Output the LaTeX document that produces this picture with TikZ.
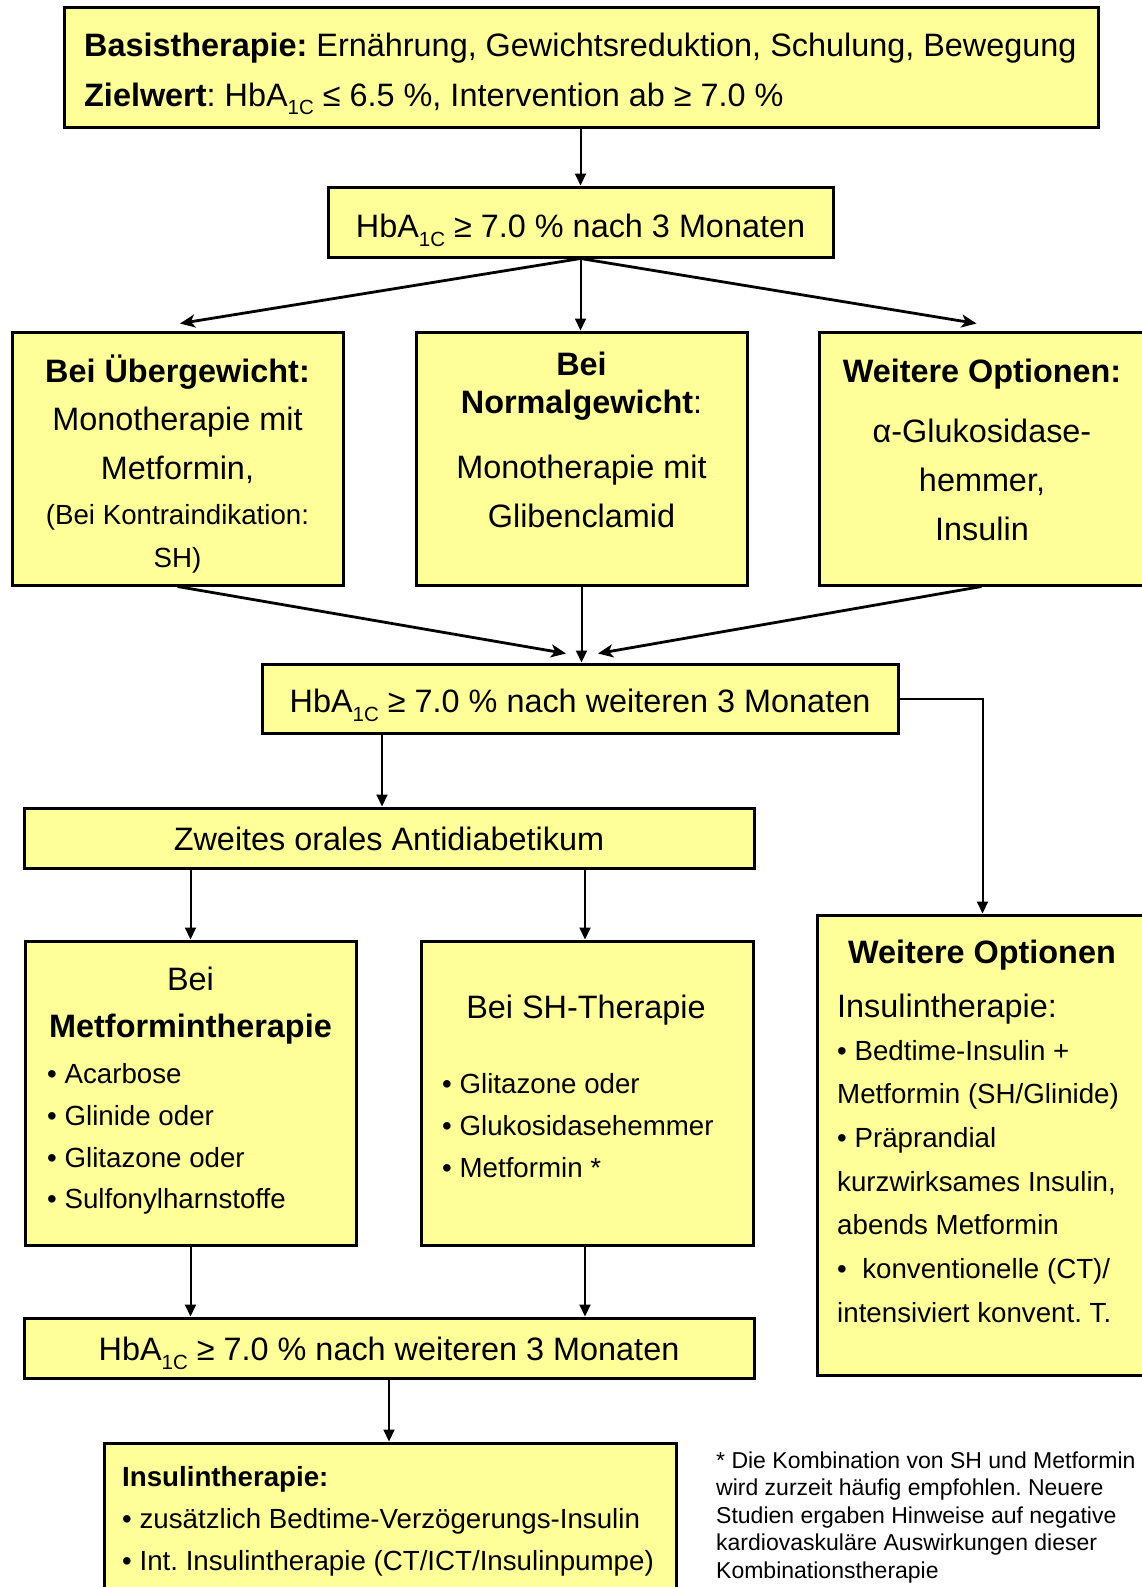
\documentclass[tikz,border=0pt]{standalone}
\usepackage{fontspec}
\setmainfont{Liberation Sans}
\usetikzlibrary{arrows.meta}
\definecolor{boxyellow}{RGB}{255,255,153}
\frenchspacing
\newcommand{\fbig}{\fontsize{32.4}{38}\selectfont}
\newcommand{\fmid}{\fontsize{27.7}{33}\selectfont}
\newcommand{\fsml}{\fontsize{23}{27.5}\selectfont}
\newcommand{\HbAc}{HbA\raisebox{-9pt}{\fontsize{20.5}{20.5}\selectfont 1C}}
\tikzset{
  box/.style={draw=black, line width=3pt, fill=boxyellow, inner sep=0pt},
  tb/.style={inner sep=0pt, anchor=base, font=\fbig},
  tbl/.style={inner sep=0pt, anchor=base west, font=\fbig},
  tm/.style={inner sep=0pt, anchor=base, font=\fmid},
  tml/.style={inner sep=0pt, anchor=base west, font=\fmid},
  tsl/.style={inner sep=0pt, anchor=base west, font=\fsml},
  arr/.style={line width=2pt, -{Triangle[length=12pt,width=11pt]}},
  darr/.style={line width=2.8pt, -{Stealth[length=15pt,width=13pt,inset=4pt]}},
}
\begin{document}
\begin{tikzpicture}[x=1pt,y=-1pt]
\useasboundingbox (0,0) rectangle (1141,1587);
\fill[white] (0,0) rectangle (1141,1587);

% boxes
\node[box, minimum width=1034pt, minimum height=119pt] (top) at (581,67.5) {};
\node[box, minimum width=505pt, minimum height=70pt] (b2) at (580.5,222) {};
\node[box, minimum width=331pt, minimum height=253pt] (L1) at (177.5,458.5) {};
\node[box, minimum width=331pt, minimum height=253pt] (M1) at (581.5,458.5) {};
\node[box, minimum width=331pt, minimum height=253pt] (R1) at (984.5,458.5) {};
\node[box, minimum width=636pt, minimum height=69pt] (W2) at (580,698.5) {};
\node[box, minimum width=730pt, minimum height=60pt] (Z) at (389,838) {};
\node[box, minimum width=331pt, minimum height=304pt] (MT) at (190.5,1093) {};
\node[box, minimum width=332pt, minimum height=304pt] (SH) at (587,1093) {};
\node[box, minimum width=331pt, minimum height=460pt] (RO) at (982.5,1145) {};
\node[box, minimum width=730pt, minimum height=60pt] (H3) at (389,1348) {};
\node[box, minimum width=572pt, minimum height=177pt] (IT) at (390,1531.5) {};

% connectors
\draw[arr] (top.south -| b2.north) -- (b2.north);
\draw[darr] (b2.south) -- ([xshift=2.5pt,yshift=7pt]L1.north);
\draw[arr] (b2.south) -- (b2.south |- M1.north);
\draw[darr] (b2.south) -- ([xshift=-8pt,yshift=7pt]R1.north);
\draw[darr] (L1.south) -- ([xshift=-14pt,yshift=9pt]W2.north);
\draw[arr] (M1.south) -- (M1.south |- W2.north);
\draw[darr] ([xshift=-3pt]R1.south) -- ([xshift=18pt,yshift=9pt]W2.north);
\draw[arr] (W2.east) -| (RO.north);
\draw[arr] ([xshift=-7pt]Z.north |- W2.south) -- ([xshift=-7pt]Z.north);
\draw[arr] (MT.north |- Z.south) -- (MT.north);
\draw[arr] ([xshift=-2pt]SH.north |- Z.south) -- ([xshift=-2pt]SH.north);
\draw[arr] (MT.south) -- (MT.south |- H3.north);
\draw[arr] ([xshift=-2pt]SH.south) -- ([xshift=-2pt]SH.south |- H3.north);
\draw[arr] (H3.south) -- (H3.south |- IT.north);

% texts: top
\node[tbl] (t1) at (84,57) {\textbf{Basistherapie:} Ernährung, Gewichtsreduktion, Schulung, Bewegung};
\node[tbl] (t2) at (84,106) {\textbf{Zielwert}: \HbAc{} ≤ 6.5 \%, Intervention ab ≥ 7.0 \%};
\node[tb] (b2t) at (580.5,237) {\HbAc{} ≥ 7.0 \% nach 3 Monaten};

% row 1
\node[tb] (l1a) at (177.5,382) {\textbf{Bei Übergewicht:}};
\node[tb] (l1b) at (177.5,430) {Monotherapie mit};
\node[tb] (l1c) at (177.5,479) {Metformin,};
\node[tm] (l1d) at (177.5,524) {(Bei Kontraindikation:};
\node[tm] (l1e) at (177.5,567) {SH)};

\node[tb] (m1a) at (581.5,375) {\textbf{Bei}};
\node[tb] (m1b) at (581.5,413) {\textbf{Normalgewicht}:};
\node[tb] (m1c) at (581.5,478) {Monotherapie mit};
\node[tb] (m1d) at (581.5,527) {Glibenclamid};

\node[tb] (r1a) at (982,382) {\textbf{Weitere Optionen:}};
\node[tb] (r1b) at (982,442) {α-Glukosidase-};
\node[tb] (r1c) at (982,491) {hemmer,};
\node[tb] (r1d) at (982,540) {Insulin};

\node[tb] (w2t) at (580,712) {\HbAc{} ≥ 7.0 \% nach weiteren 3 Monaten};
\node[tb] (zt) at (389,850) {Zweites orales Antidiabetikum};

% Metformin box
\node[tb] (mta) at (190.5,990) {Bei};
\node[tb] (mtb) at (190.5,1037) {\textbf{Metformintherapie}};
\node[tml] (mtc) at (47,1083) {• Acarbose};
\node[tml] (mtd) at (47,1125) {• Glinide oder};
\node[tml] (mte) at (47,1167) {• Glitazone oder};
\node[tml] (mtf) at (47,1208) {• Sulfonylharnstoffe};

% SH box
\node[tb] (sha) at (586,1018) {Bei SH-Therapie};
\node[tml] (shb) at (442,1093) {• Glitazone oder};
\node[tml] (shc) at (442,1135) {• Glukosidasehemmer};
\node[tml] (shd) at (442,1177) {• Metformin *};

% right options box
\node[tb] (roa) at (982,963) {\textbf{Weitere Optionen}};
\node[tbl] (rob) at (837,1017) {Insulintherapie:};
\node[tml] (roc) at (837,1060) {• Bedtime-Insulin +};
\node[tml] (rod) at (837,1103.7) {Metformin (SH/Glinide)};
\node[tml] (roe) at (837,1147.3) {• Präprandial};
\node[tml] (rof) at (837,1191) {kurzwirksames Insulin,};
\node[tml] (rog) at (837,1234.7) {abends Metformin};
\node[tml] (roh) at (837,1278.3) {•\ \ konventionelle (CT)/};
\node[tml] (roi) at (837,1322) {intensiviert konvent. T.};

\node[tb] (h3t) at (389,1360) {\HbAc{} ≥ 7.0 \% nach weiteren 3 Monaten};

% bottom box
\node[tml] (ita) at (122,1486) {\textbf{Insulintherapie:}};
\node[tml] (itb) at (122,1528) {• zusätzlich Bedtime-Verzögerungs-Insulin};
\node[tml] (itc) at (122,1570) {• Int. Insulintherapie (CT/ICT/Insulinpumpe)};

% footnote
\node[tsl] (fn1) at (716,1468) {* Die Kombination von SH und Metformin};
\node[tsl] (fn2) at (716,1495.5) {wird zurzeit häufig empfohlen. Neuere};
\node[tsl] (fn3) at (716,1523) {Studien ergaben Hinweise auf negative};
\node[tsl] (fn4) at (716,1550.5) {kardiovaskuläre Auswirkungen dieser};
\node[tsl] (fn5) at (716,1578) {Kombinationstherapie};
\end{tikzpicture}
\end{document}
